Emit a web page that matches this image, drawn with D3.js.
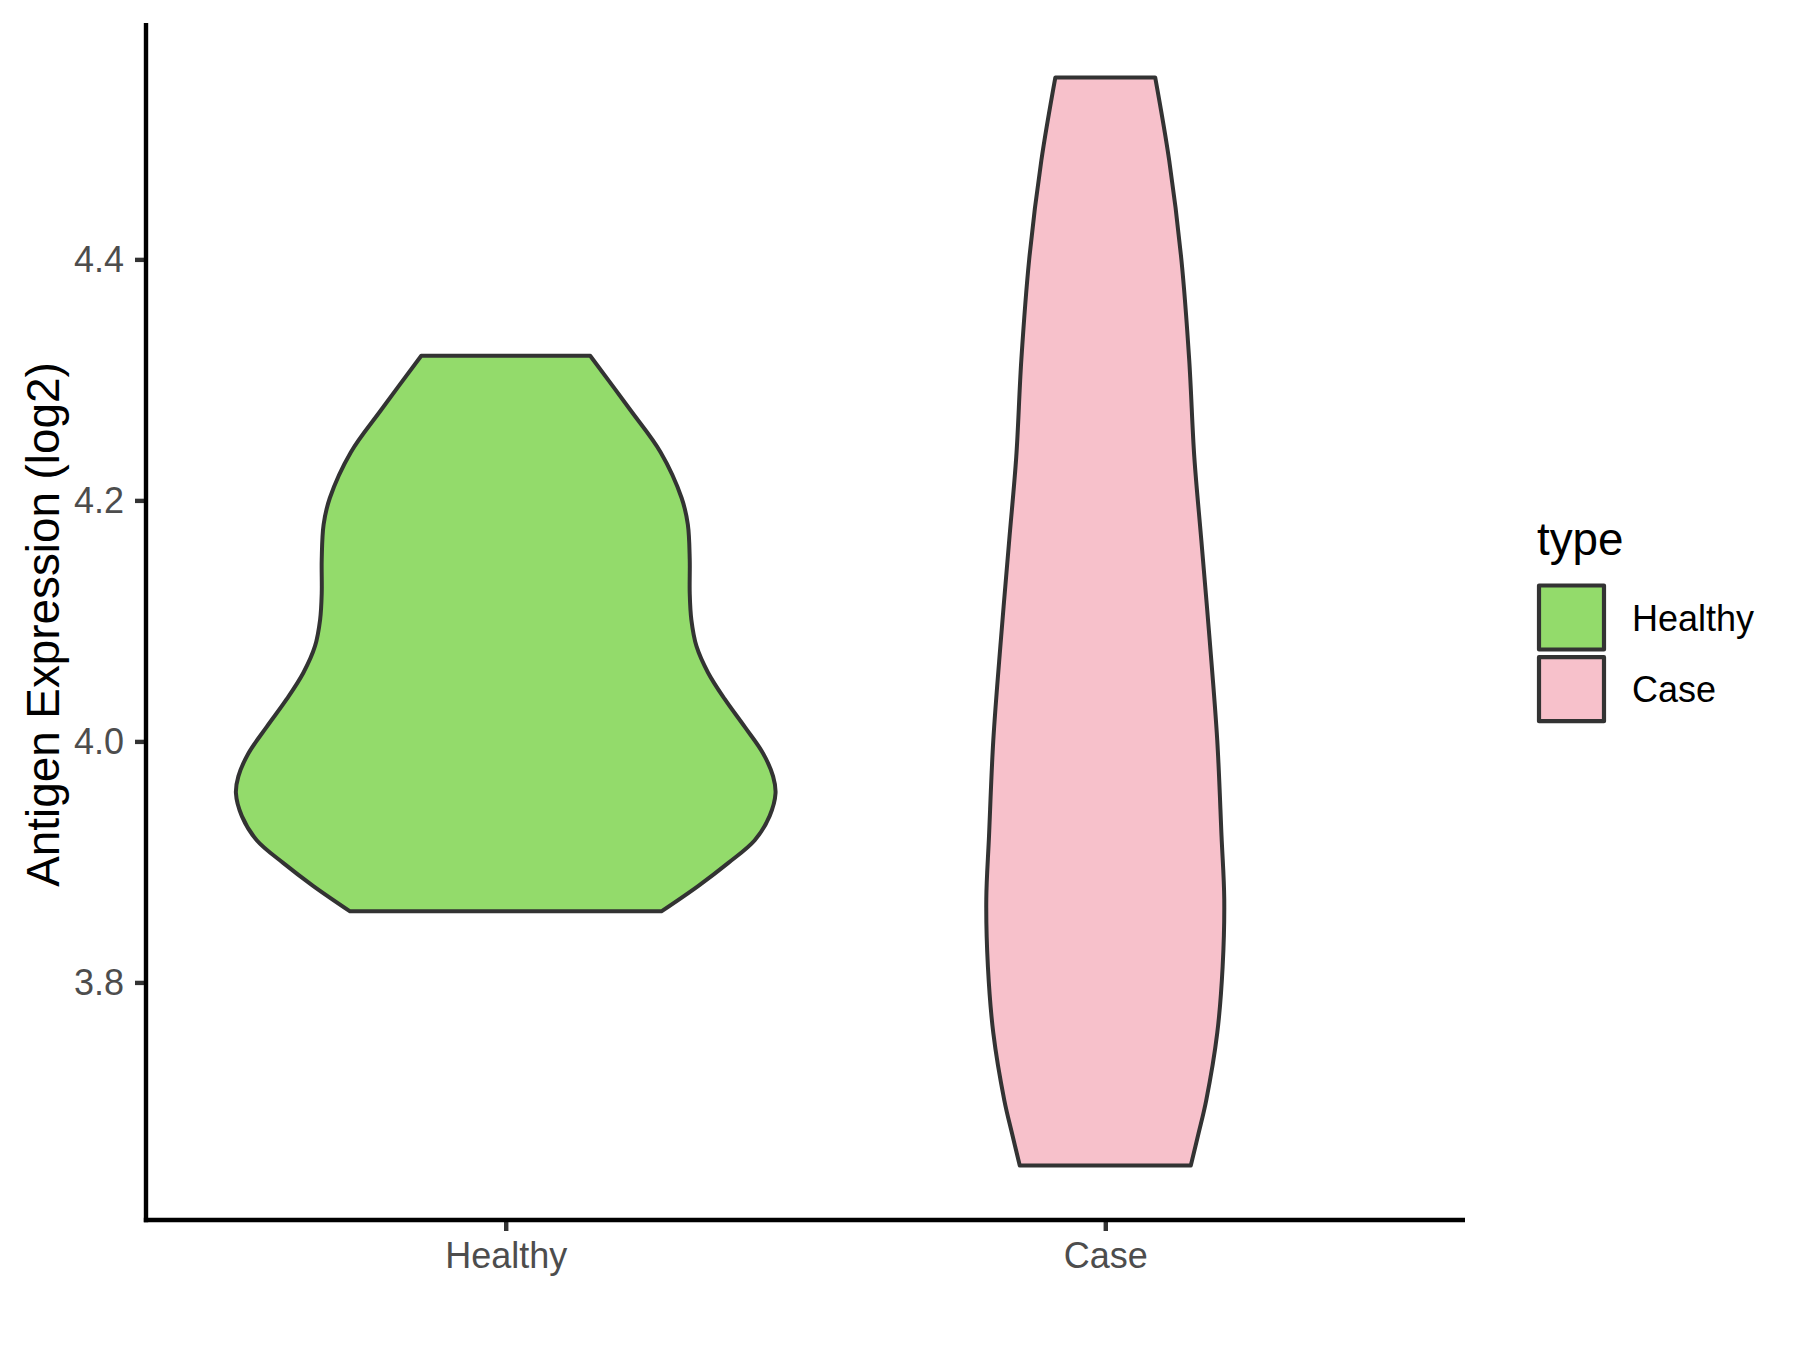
<!DOCTYPE html>
<html>
<head>
<meta charset="utf-8">
<script src="https://cdn.jsdelivr.net/npm/d3@7"></script>
<style>
  html, body { margin: 0; padding: 0; background: #ffffff; }
  svg { display: block; font-family: "Liberation Sans", Arial, Helvetica, sans-serif; }
</style>
</head>
<body>
<svg id="chart" width="1800" height="1350"></svg>
<script>
// ---- data ----
const categories = ["Healthy", "Case"];
const fillColors = ["#93DB6B", "#F7C1CB"];
const yTicks = [3.8, 4.0, 4.2, 4.4];
const yTitle = "Antigen Expression (log2)";
const legendTitle = "type";

// violin outlines: expression value and relative density width (1 = widest)
const healthyValues = [4.320, 4.275, 4.240, 4.202, 4.180, 4.151, 4.123, 4.101, 4.079, 4.057, 4.035, 4.012, 3.990, 3.971, 3.957, 3.938, 3.918, 3.899, 3.880, 3.859];
const healthyWidths = [0.313, 0.462, 0.574, 0.652, 0.675, 0.682, 0.682, 0.688, 0.707, 0.750, 0.812, 0.886, 0.954, 0.991, 1.000, 0.978, 0.923, 0.824, 0.713, 0.577];
const caseValues = [4.551, 4.482, 4.400, 4.317, 4.236, 4.167, 4.084, 4.001, 3.921, 3.869, 3.813, 3.758, 3.702, 3.675, 3.648];
const caseWidths = [0.185, 0.237, 0.282, 0.311, 0.330, 0.356, 0.387, 0.415, 0.431, 0.441, 0.435, 0.415, 0.374, 0.346, 0.317];

// ---- layout ----
const svg = d3.select("#chart");
const panel = { left: 146, right: 1465, top: 23, bottom: 1220 };

const allVals = healthyValues.concat(caseValues);
const vmin = d3.min(allVals), vmax = d3.max(allVals);
const pad = (vmax - vmin) * 0.05;
const y = d3.scaleLinear().domain([vmin - pad, vmax + pad]).range([panel.bottom, panel.top]);
const x = d3.scalePoint().domain(categories).range([panel.left, panel.right]).padding(0.6);
const w = d3.scaleLinear().domain([0, 1]).range([0, x.step() * 0.45]);

const violins = [
  { cat: "Healthy", vals: healthyValues, wids: healthyWidths, fill: fillColors[0] },
  { cat: "Case", vals: caseValues, wids: caseWidths, fill: fillColors[1] }
];

const area = d3.area()
  .curve(d3.curveCatmullRom.alpha(0.5));

violins.forEach(v => {
  const cx = x(v.cat);
  const pts = v.vals.map((val, i) => ({ val, wd: v.wids[i] }));
  area.y(d => y(d.val)).x0(d => cx - w(d.wd)).x1(d => cx + w(d.wd));
  svg.append("path")
    .attr("d", area(pts))
    .attr("fill", v.fill)
    .attr("stroke", "#333333")
    .attr("stroke-width", 4)
    .attr("stroke-linejoin", "round");
});

// ---- axes ----
const axisG = svg.append("g");
// y axis
const yAxis = d3.axisLeft(y).tickValues(yTicks).tickFormat(d3.format(".1f")).tickSize(11).tickPadding(11);
const gy = axisG.append("g").attr("transform", `translate(${panel.left},0)`).call(yAxis);
gy.select(".domain").remove();
gy.selectAll(".tick line").attr("stroke", "#333333").attr("stroke-width", 4.4);
gy.selectAll(".tick text").attr("fill", "#4D4D4D").attr("font-size", 36)
  .attr("font-family", "Liberation Sans, Arial, sans-serif")
  .attr("dy", null).attr("dominant-baseline", null).attr("y", 12.5);

// x axis
const xAxis = d3.axisBottom(x).tickSize(11).tickPadding(10);
const gx = axisG.append("g").attr("transform", `translate(0,${panel.bottom})`).call(xAxis);
gx.select(".domain").remove();
gx.selectAll(".tick line").attr("stroke", "#333333").attr("stroke-width", 4.4);
gx.selectAll(".tick text").attr("fill", "#4D4D4D").attr("font-size", 36)
  .attr("font-family", "Liberation Sans, Arial, sans-serif")
  .attr("dy", null).attr("y", 48);

// axis lines
axisG.append("line").attr("x1", panel.left).attr("x2", panel.left)
  .attr("y1", panel.top).attr("y2", panel.bottom + 2.2)
  .attr("stroke", "#000").attr("stroke-width", 4.4);
axisG.append("line").attr("x1", panel.left - 2.2).attr("x2", panel.right)
  .attr("y1", panel.bottom).attr("y2", panel.bottom)
  .attr("stroke", "#000").attr("stroke-width", 4.4);

// y title
svg.append("text")
  .attr("transform", `translate(59,${(panel.top + panel.bottom) / 2 + 3}) rotate(-90)`)
  .attr("text-anchor", "middle")
  .attr("font-size", 45.8)
  .attr("fill", "#000")
  .text(yTitle);

// ---- legend ----
const lg = svg.append("g");
lg.append("text").attr("x", 1537).attr("y", 555).attr("font-size", 45.8).attr("fill", "#000").text(legendTitle);
categories.forEach((c, i) => {
  const ky = 585.5 + i * 71.7;
  lg.append("rect").attr("x", 1539).attr("y", ky).attr("width", 65).attr("height", 64)
    .attr("fill", fillColors[i]).attr("stroke", "#333333").attr("stroke-width", 4.2)
    .attr("stroke-linejoin", "round");
  lg.append("text").attr("x", 1632).attr("y", ky + 45.2).attr("font-size", 36)
    .attr("fill", "#000").text(c);
});
</script>
</body>
</html>
